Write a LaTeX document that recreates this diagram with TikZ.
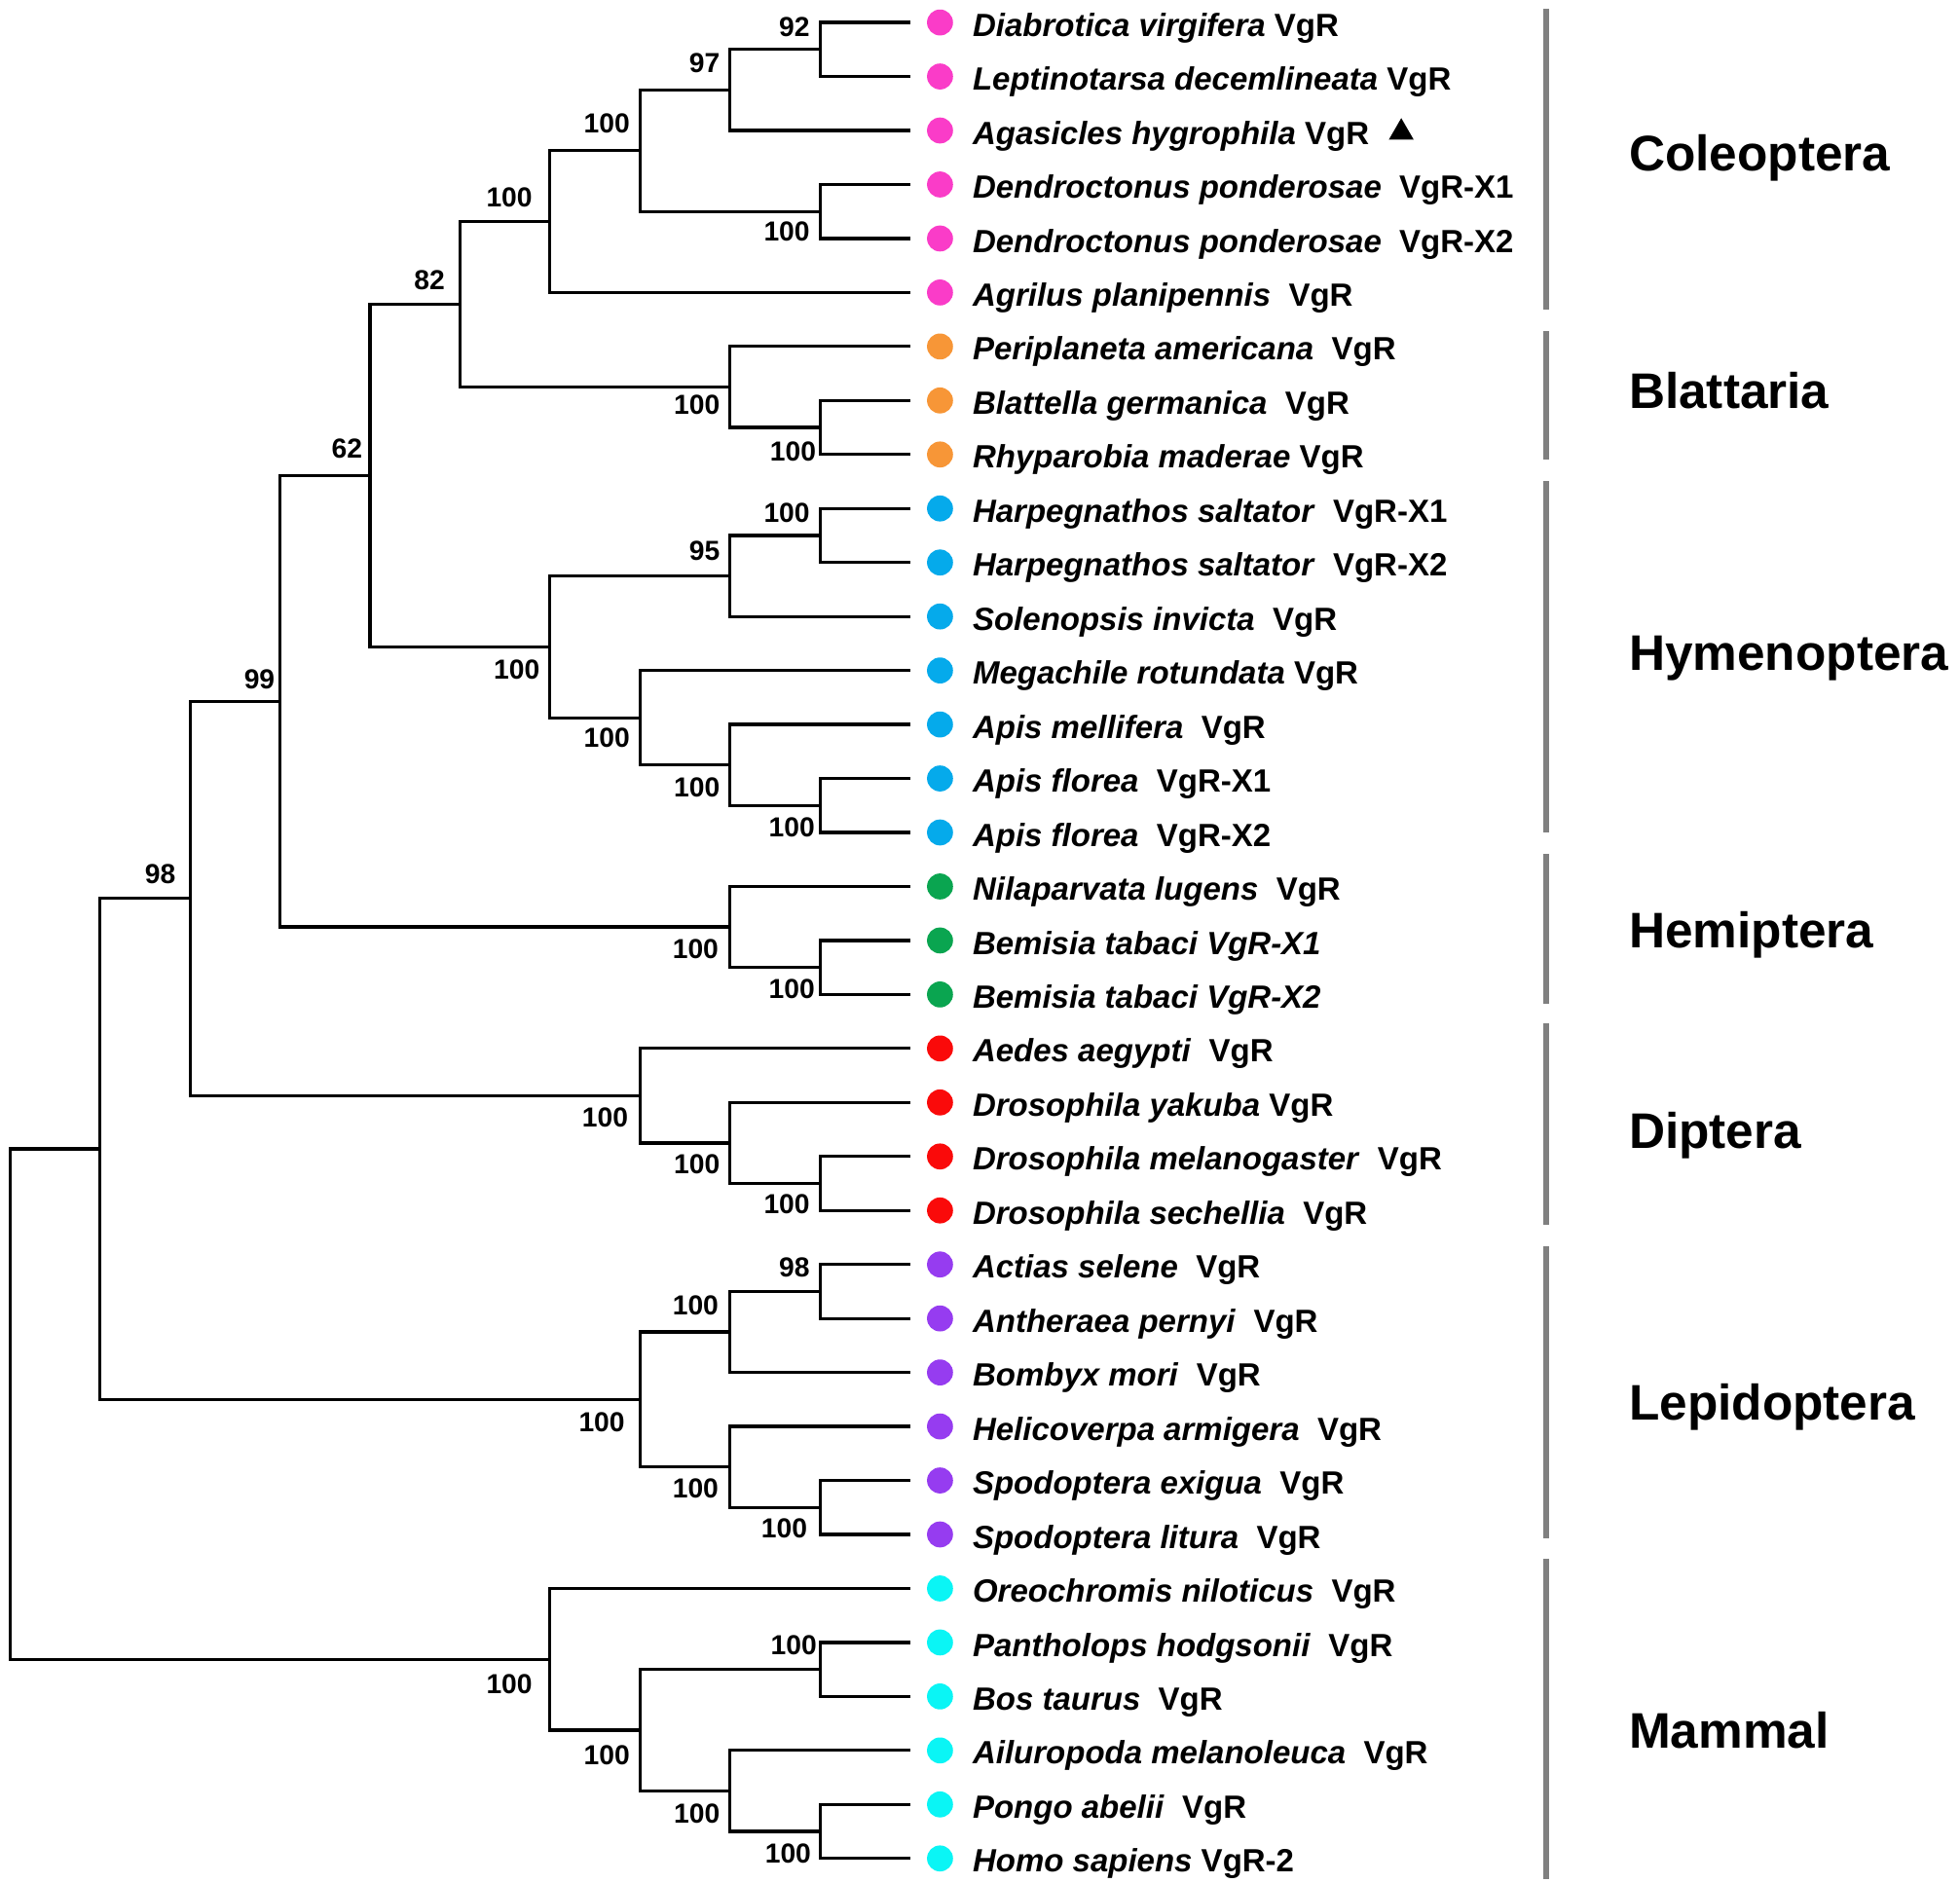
\documentclass[tikz,border=0pt]{standalone}
\usepackage{fontspec}
\setmainfont{Liberation Sans}
\usetikzlibrary{positioning,shapes.geometric}

\definecolor{coleo}{RGB}{250,60,200}
\definecolor{blatt}{RGB}{247,150,55}
\definecolor{hymen}{RGB}{5,170,235}
\definecolor{hemip}{RGB}{10,165,80}
\definecolor{dipte}{RGB}{250,10,10}
\definecolor{lepid}{RGB}{150,60,240}
\definecolor{mamma}{RGB}{10,245,245}
\definecolor{bargray}{RGB}{128,128,128}

\begin{document}
\begin{tikzpicture}[
  x=1pt,
  y=-1pt,
  br/.style={line width=2.5pt, line join=miter},
  dot/.style={circle, inner sep=0pt, minimum size=20.8pt},
  sp/.style={anchor=base west, inner sep=0pt, font=\fontsize{25.7}{30}\selectfont\bfseries},
  bs/.style={inner sep=0pt, font=\fontsize{22}{26}\selectfont\bfseries},
  clade/.style={anchor=base west, inner sep=0pt, font=\fontsize{40}{48}\selectfont\bfseries},
  bar/.style={line width=4.4pt, draw=bargray}
]
\useasboundingbox (0,0) rectangle (1568,1505.7);

% Frunze (capetele ramurilor)
\coordinate (t1) at (728,18);
\coordinate (t2) at (728,61.2);
\coordinate (t3) at (728,104.4);
\coordinate (t4) at (728,147.6);
\coordinate (t5) at (728,190.8);
\coordinate (t6) at (728,234);
\coordinate (t7) at (728,277.2);
\coordinate (t8) at (728,320.4);
\coordinate (t9) at (728,363.6);
\coordinate (t10) at (728,406.8);
\coordinate (t11) at (728,450);
\coordinate (t12) at (728,493.2);
\coordinate (t13) at (728,536.4);
\coordinate (t14) at (728,579.6);
\coordinate (t15) at (728,622.8);
\coordinate (t16) at (728,666);
\coordinate (t17) at (728,709.2);
\coordinate (t18) at (728,752.4);
\coordinate (t19) at (728,795.6);
\coordinate (t20) at (728,838.8);
\coordinate (t21) at (728,882);
\coordinate (t22) at (728,925.2);
\coordinate (t23) at (728,968.4);
\coordinate (t24) at (728,1011.6);
\coordinate (t25) at (728,1054.8);
\coordinate (t26) at (728,1098);
\coordinate (t27) at (728,1141.2);
\coordinate (t28) at (728,1184.4);
\coordinate (t29) at (728,1227.6);
\coordinate (t30) at (728,1270.8);
\coordinate (t31) at (728,1314);
\coordinate (t32) at (728,1357.2);
\coordinate (t33) at (728,1400.4);
\coordinate (t34) at (728,1443.6);
\coordinate (t35) at (728,1486.8);

% Noduri interne
\coordinate (n92) at (656,39.6);
\coordinate (n97) at (584,72);
\coordinate (nDen) at (656,169.2);
\coordinate (nCo3) at (512,120.6);
\coordinate (nCol) at (440,177.3);
\coordinate (nBla2) at (656,342);
\coordinate (nBla) at (584,309.6);
\coordinate (n82) at (368,243.45);
\coordinate (nHar) at (656,428.4);
\coordinate (n95) at (584,460.8);
\coordinate (nAfl) at (656,644.4);
\coordinate (nApi) at (584,612);
\coordinate (nMeg) at (512,574.2);
\coordinate (nHym) at (440,517.5);
\coordinate (n62) at (296,380.5);
\coordinate (nBem) at (656,774);
\coordinate (nHem) at (584,741.6);
\coordinate (n99) at (224,561);
\coordinate (nDro2) at (656,946.8);
\coordinate (nDro) at (584,914.4);
\coordinate (nDip) at (512,876.6);
\coordinate (n98) at (152,718.8);
\coordinate (nAct) at (656,1033.2);
\coordinate (nLe1) at (584,1065.6);
\coordinate (nSpo) at (656,1206);
\coordinate (nLe2) at (584,1173.6);
\coordinate (nLep) at (512,1119.6);
\coordinate (nIns) at (80,919.2);
\coordinate (nPan) at (656,1335.6);
\coordinate (nHom) at (656,1465.2);
\coordinate (nPon) at (584,1432.8);
\coordinate (nMa2) at (512,1384.2);
\coordinate (nMam) at (440,1327.5);
\coordinate (root) at (8,1123.4);

% Ramuri
\draw[br] (t1) -| (n92) |- (t2);
\draw[br] (n92) -| (n97) |- (t3);
\draw[br] (t4) -| (nDen) |- (t5);
\draw[br] (n97) -| (nCo3) |- (nDen);
\draw[br] (nCo3) -| (nCol) |- (t6);
\draw[br] (t8) -| (nBla2) |- (t9);
\draw[br] (t7) -| (nBla) |- (nBla2);
\draw[br] (nCol) -| (n82) |- (nBla);
\draw[br] (t10) -| (nHar) |- (t11);
\draw[br] (nHar) -| (n95) |- (t12);
\draw[br] (t15) -| (nAfl) |- (t16);
\draw[br] (t14) -| (nApi) |- (nAfl);
\draw[br] (t13) -| (nMeg) |- (nApi);
\draw[br] (n95) -| (nHym) |- (nMeg);
\draw[br] (n82) -| (n62) |- (nHym);
\draw[br] (t18) -| (nBem) |- (t19);
\draw[br] (t17) -| (nHem) |- (nBem);
\draw[br] (n62) -| (n99) |- (nHem);
\draw[br] (t22) -| (nDro2) |- (t23);
\draw[br] (t21) -| (nDro) |- (nDro2);
\draw[br] (t20) -| (nDip) |- (nDro);
\draw[br] (n99) -| (n98) |- (nDip);
\draw[br] (t24) -| (nAct) |- (t25);
\draw[br] (nAct) -| (nLe1) |- (t26);
\draw[br] (t28) -| (nSpo) |- (t29);
\draw[br] (t27) -| (nLe2) |- (nSpo);
\draw[br] (nLe1) -| (nLep) |- (nLe2);
\draw[br] (n98) -| (nIns) |- (nLep);
\draw[br] (t31) -| (nPan) |- (t32);
\draw[br] (t34) -| (nHom) |- (t35);
\draw[br] (t33) -| (nPon) |- (nHom);
\draw[br] (nPan) -| (nMa2) |- (nPon);
\draw[br] (t30) -| (nMam) |- (nMa2);
\draw[br] (nIns) -| (root) |- (nMam);

% Valori bootstrap
\node[bs, above left=10pt and 8pt of n92] (b92) {92};
\node[bs, above left=13.6pt and 8pt of n97] (b97) {97};
\node[bs, below left=7.8pt and 8pt of nDen] (bDen) {100};
\node[bs, above left=13.6pt and 8pt of nCo3] (bCo3) {100};
\node[bs, above left=11.3pt and 14pt of nCol] (bCol) {100};
\node[bs, below left=6.4pt and 8pt of nBla] (bBla) {100};
\node[bs, below left=11pt and 3pt of nBla2] (bBla2) {100};
\node[bs, above left=11.5pt and 12pt of n82] (b82) {82};
\node[bs, above left=13.5pt and 6pt of n62] (b62) {62};
\node[bs, above left=10.4pt and 8pt of nHar] (bHar) {100};
\node[bs, above left=12.2pt and 8pt of n95] (b95) {95};
\node[bs, below left=10.5pt and 8pt of nHym] (bHym) {100};
\node[bs, below left=7.8pt and 8pt of nMeg] (bMeg) {100};
\node[bs, below left=10pt and 8pt of nApi] (bApi) {100};
\node[bs, below left=9.6pt and 4pt of nAfl] (bAfl) {100};
\node[bs, above left=9.5pt and 4pt of n99] (b99) {99};
\node[bs, below left=10pt and 9pt of nHem] (bHem) {100};
\node[bs, below left=9.6pt and 4pt of nBem] (bBem) {100};
\node[bs, above left=11.8pt and 11.4pt of n98] (b98) {98};
\node[bs, below left=9.4pt and 9.4pt of nDip] (bDip) {100};
\node[bs, below left=9.2pt and 8pt of nDro] (bDro) {100};
\node[bs, below left=8.8pt and 8pt of nDro2] (bDro2) {100};
\node[bs, above left=11.5pt and 8pt of nAct] (bAct) {98};
\node[bs, above left=13.6pt and 9pt of nLe1] (bLe1) {100};
\node[bs, below left=10pt and 12pt of nLep] (bLep) {100};
\node[bs, below left=9.4pt and 9pt of nLe2] (bLe2) {100};
\node[bs, below left=9pt and 10pt of nSpo] (bSpo) {100};
\node[bs, below left=12.2pt and 14pt of nMam] (bMam) {100};
\node[bs, above left=11.6pt and 2.5pt of nPan] (bPan) {100};
\node[bs, below left=12.4pt and 8pt of nMa2] (bMa2) {100};
\node[bs, below left=9.8pt and 8pt of nPon] (bPon) {100};
\node[bs, below left=9.6pt and 7pt of nHom] (bHom) {100};

% Puncte colorate
\node[dot, fill=coleo] (d1) at (752,18) {};
\node[dot, fill=coleo] (d2) at (752,61.2) {};
\node[dot, fill=coleo] (d3) at (752,104.4) {};
\node[dot, fill=coleo] (d4) at (752,147.6) {};
\node[dot, fill=coleo] (d5) at (752,190.8) {};
\node[dot, fill=coleo] (d6) at (752,234) {};
\node[dot, fill=blatt] (d7) at (752,277.2) {};
\node[dot, fill=blatt] (d8) at (752,320.4) {};
\node[dot, fill=blatt] (d9) at (752,363.6) {};
\node[dot, fill=hymen] (d10) at (752,406.8) {};
\node[dot, fill=hymen] (d11) at (752,450) {};
\node[dot, fill=hymen] (d12) at (752,493.2) {};
\node[dot, fill=hymen] (d13) at (752,536.4) {};
\node[dot, fill=hymen] (d14) at (752,579.6) {};
\node[dot, fill=hymen] (d15) at (752,622.8) {};
\node[dot, fill=hymen] (d16) at (752,666) {};
\node[dot, fill=hemip] (d17) at (752,709.2) {};
\node[dot, fill=hemip] (d18) at (752,752.4) {};
\node[dot, fill=hemip] (d19) at (752,795.6) {};
\node[dot, fill=dipte] (d20) at (752,838.8) {};
\node[dot, fill=dipte] (d21) at (752,882) {};
\node[dot, fill=dipte] (d22) at (752,925.2) {};
\node[dot, fill=dipte] (d23) at (752,968.4) {};
\node[dot, fill=lepid] (d24) at (752,1011.6) {};
\node[dot, fill=lepid] (d25) at (752,1054.8) {};
\node[dot, fill=lepid] (d26) at (752,1098) {};
\node[dot, fill=lepid] (d27) at (752,1141.2) {};
\node[dot, fill=lepid] (d28) at (752,1184.4) {};
\node[dot, fill=lepid] (d29) at (752,1227.6) {};
\node[dot, fill=mamma] (d30) at (752,1270.8) {};
\node[dot, fill=mamma] (d31) at (752,1314) {};
\node[dot, fill=mamma] (d32) at (752,1357.2) {};
\node[dot, fill=mamma] (d33) at (752,1400.4) {};
\node[dot, fill=mamma] (d34) at (752,1443.6) {};
\node[dot, fill=mamma] (d35) at (752,1486.8) {};

% Specii
\node[sp] (s1) at (778,29) {\textit{Diabrotica virgifera} VgR};
\node[sp] (s2) at (778,72.2) {\textit{Leptinotarsa decemlineata} VgR};
\node[sp] (s3) at (778,115.4) {\textit{Agasicles hygrophila} VgR};
\node[sp] (s4) at (778,158.6) {\textit{Dendroctonus ponderosae}\ \ VgR-X1};
\node[sp] (s5) at (778,201.8) {\textit{Dendroctonus ponderosae}\ \ VgR-X2};
\node[sp] (s6) at (778,245) {\textit{Agrilus planipennis}\ \ VgR};
\node[sp] (s7) at (778,288.2) {\textit{Periplaneta americana}\ \ VgR};
\node[sp] (s8) at (778,331.4) {\textit{Blattella germanica}\ \ VgR};
\node[sp] (s9) at (778,374.6) {\textit{Rhyparobia maderae} VgR};
\node[sp] (s10) at (778,417.8) {\textit{Harpegnathos saltator}\ \ VgR-X1};
\node[sp] (s11) at (778,461) {\textit{Harpegnathos saltator}\ \ VgR-X2};
\node[sp] (s12) at (778,504.2) {\textit{Solenopsis invicta}\ \ VgR};
\node[sp] (s13) at (778,547.4) {\textit{Megachile rotundata} VgR};
\node[sp] (s14) at (778,590.6) {\textit{Apis mellifera}\ \ VgR};
\node[sp] (s15) at (778,633.8) {\textit{Apis florea}\ \ VgR-X1};
\node[sp] (s16) at (778,677) {\textit{Apis florea}\ \ VgR-X2};
\node[sp] (s17) at (778,720.2) {\textit{Nilaparvata lugens}\ \ VgR};
\node[sp] (s18) at (778,763.4) {\textit{Bemisia tabaci VgR-X1}};
\node[sp] (s19) at (778,806.6) {\textit{Bemisia tabaci VgR-X2}};
\node[sp] (s20) at (778,849.8) {\textit{Aedes aegypti}\ \ VgR};
\node[sp] (s21) at (778,893) {\textit{Drosophila yakuba} VgR};
\node[sp] (s22) at (778,936.2) {\textit{Drosophila melanogaster}\ \ VgR};
\node[sp] (s23) at (778,979.4) {\textit{Drosophila sechellia}\ \ VgR};
\node[sp] (s24) at (778,1022.6) {\textit{Actias selene}\ \ VgR};
\node[sp] (s25) at (778,1065.8) {\textit{Antheraea pernyi}\ \ VgR};
\node[sp] (s26) at (778,1109) {\textit{Bombyx mori}\ \ VgR};
\node[sp] (s27) at (778,1152.2) {\textit{Helicoverpa armigera}\ \ VgR};
\node[sp] (s28) at (778,1195.4) {\textit{Spodoptera exigua}\ \ VgR};
\node[sp] (s29) at (778,1238.6) {\textit{Spodoptera litura}\ \ VgR};
\node[sp] (s30) at (778,1281.8) {\textit{Oreochromis niloticus}\ \ VgR};
\node[sp] (s31) at (778,1325) {\textit{Pantholops hodgsonii}\ \ VgR};
\node[sp] (s32) at (778,1368.2) {\textit{Bos taurus}\ \ VgR};
\node[sp] (s33) at (778,1411.4) {\textit{Ailuropoda melanoleuca}\ \ VgR};
\node[sp] (s34) at (778,1454.6) {\textit{Pongo abelii}\ \ VgR};
\node[sp] (s35) at (778,1497.8) {\textit{Homo sapiens} VgR-2};

% Triunghi
\node[regular polygon, regular polygon sides=3, fill=black, inner sep=0pt, minimum size=23pt] (mark) at (1121,106) {};

% Bare si ordine
\coordinate (colTop) at (1237,7);
\coordinate (colBot) at (1237,248);
\coordinate (blaTop) at (1237,265);
\coordinate (blaBot) at (1237,368);
\coordinate (hymTop) at (1237,385);
\coordinate (hymBot) at (1237,666);
\coordinate (hemTop) at (1237,683);
\coordinate (hemBot) at (1237,803);
\coordinate (dipTop) at (1237,819);
\coordinate (dipBot) at (1237,980);
\coordinate (lepTop) at (1237,997);
\coordinate (lepBot) at (1237,1231);
\coordinate (mamTop) at (1237,1247);
\coordinate (mamBot) at (1237,1503);
\draw[bar] (colTop) -- (colBot);
\draw[bar] (blaTop) -- (blaBot);
\draw[bar] (hymTop) -- (hymBot);
\draw[bar] (hemTop) -- (hemBot);
\draw[bar] (dipTop) -- (dipBot);
\draw[bar] (lepTop) -- (lepBot);
\draw[bar] (mamTop) -- (mamBot);

\node[clade] (coleoptera) at (1303,136.5) {Coleoptera};
\node[clade] (blattaria) at (1303,327) {Blattaria};
\node[clade] (hymenoptera) at (1303,536) {Hymenoptera};
\node[clade] (hemiptera) at (1303,758) {Hemiptera};
\node[clade] (diptera) at (1303,918.7) {Diptera};
\node[clade] (lepidoptera) at (1303,1136) {Lepidoptera};
\node[clade] (mammal) at (1303,1398.7) {Mammal};

\end{tikzpicture}
\end{document}
